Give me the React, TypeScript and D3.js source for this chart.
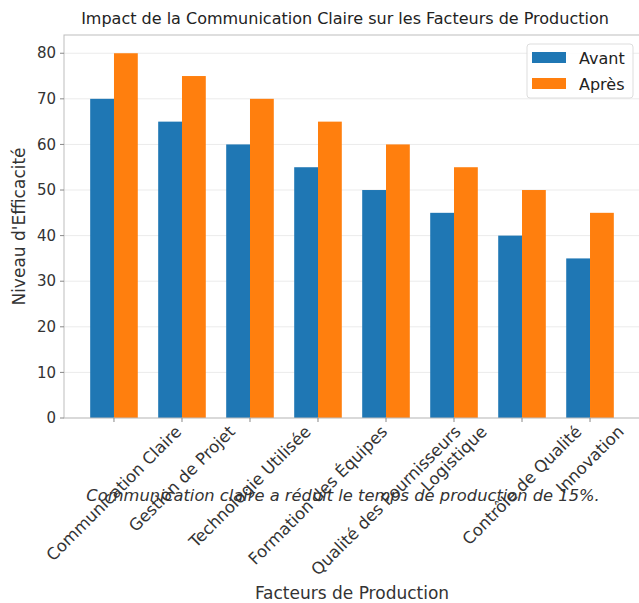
import React, { useEffect, useRef } from 'react';
import * as d3 from 'd3';

const categories = [
  'Communication Claire',
  'Gestion de Projet',
  'Technologie Utilisée',
  'Formation des Équipes',
  'Qualité des Fournisseurs',
  'Logistique',
  'Contrôle de Qualité',
  'Innovation',
];
const avant = [70, 65, 60, 55, 50, 45, 40, 35];
const apres = [80, 75, 70, 65, 60, 55, 50, 45];
const seriesNames = ['Avant', 'Après'];
const seriesColors = ['#1f77b4', '#ff7f0e'];
const yTicks = [0, 10, 20, 30, 40, 50, 60, 70, 80];

const title = 'Impact de la Communication Claire sur les Facteurs de Production';
const xTitle = 'Facteurs de Production';
const yTitle = "Niveau d'Efficacité";
const note = 'Communication claire a réduit le temps de production de 15%.';

const W = 639;
const H = 603;
const FONT = '"DejaVu Sans", sans-serif';

export default function App() {
  const ref = useRef<SVGSVGElement | null>(null);

  useEffect(() => {
    document.body.style.margin = '0';
    document.body.style.overflow = 'hidden';
    const svg = d3.select(ref.current);
    svg.selectAll('*').remove();

    const left = 64, right = 640, top = 35, bottom = 418;
    const barW = 0.35;
    const x = d3.scaleLinear().domain([-0.735, categories.length - 1 + 0.735]).range([left, right]);
    const y = d3.scaleLinear().domain([0, 84]).range([bottom, top]);

    svg.append('rect').attr('width', W).attr('height', H).attr('fill', '#fff');

    // grid
    svg.append('g').selectAll('line').data(yTicks).enter().append('line')
      .attr('x1', left).attr('x2', right)
      .attr('y1', d => y(d)).attr('y2', d => y(d))
      .attr('stroke', '#ebebeb').attr('stroke-width', 1);

    // bars
    const series = [avant, apres];
    series.forEach((vals, s) => {
      svg.append('g').selectAll('rect').data(vals).enter().append('rect')
        .attr('x', (d, i) => x(i + (s === 0 ? -barW : 0)))
        .attr('width', x(barW) - x(0))
        .attr('y', d => y(d))
        .attr('height', d => bottom - y(d))
        .attr('fill', seriesColors[s]);
    });

    // frame
    svg.append('rect')
      .attr('x', left).attr('y', top)
      .attr('width', right - left).attr('height', bottom - top)
      .attr('fill', 'none').attr('stroke', '#bdbdbd').attr('stroke-width', 1);

    // y ticks
    const yg = svg.append('g');
    yTicks.forEach(t => {
      yg.append('line').attr('x1', left - 4).attr('x2', left).attr('y1', y(t)).attr('y2', y(t))
        .attr('stroke', '#888');
      yg.append('text').attr('x', left - 8).attr('y', y(t)).attr('dy', '0.35em')
        .attr('text-anchor', 'end').attr('font-family', FONT).attr('font-size', 15)
        .attr('fill', '#333').text(t);
    });

    // x ticks + rotated labels
    const xg = svg.append('g');
    categories.forEach((c, i) => {
      xg.append('line').attr('x1', x(i)).attr('x2', x(i)).attr('y1', bottom).attr('y2', bottom + 4)
        .attr('stroke', '#888');
      const fs = 16.5;
      const t = xg.append('text')
        .attr('text-anchor', 'middle').attr('dominant-baseline', 'central')
        .attr('font-family', FONT).attr('font-size', fs).attr('fill', '#333').text(c);
      const L = (t.node() as SVGTextElement).getComputedTextLength();
      const half = (L / 2 + fs * 0.5) * Math.SQRT1_2;
      const cy = bottom + 5 + half;
      t.attr('transform', `translate(${x(i)},${cy}) rotate(-45)`);
    });

    // titles
    svg.append('text').attr('x', (left + right) / 2 - 7).attr('y', 24).attr('text-anchor', 'middle')
      .attr('font-family', FONT).attr('font-size', 16).attr('font-weight', 500)
      .attr('fill', '#222').text(title);
    svg.append('text').attr('x', (left + right) / 2).attr('y', 599).attr('text-anchor', 'middle')
      .attr('font-family', FONT).attr('font-size', 17).attr('fill', '#333').text(xTitle);
    svg.append('text').attr('transform', `translate(25,${(top + bottom) / 2}) rotate(-90)`)
      .attr('text-anchor', 'middle').attr('font-family', FONT).attr('font-size', 17)
      .attr('fill', '#333').text(yTitle);

    // note
    svg.append('text').attr('x', 343).attr('y', 501).attr('text-anchor', 'middle')
      .attr('font-family', FONT).attr('font-size', 16.3).attr('font-style', 'italic')
      .attr('fill', '#333').text(note);

    // legend
    const lg = svg.append('g');
    lg.append('rect').attr('x', 527).attr('y', 44).attr('width', 106).attr('height', 54).attr('rx', 3)
      .attr('fill', '#fff').attr('fill-opacity', 0.85).attr('stroke', '#dddddd');
    seriesNames.forEach((n, s) => {
      const yy = 52 + s * 26;
      lg.append('rect').attr('x', 532).attr('y', yy).attr('width', 34).attr('height', 11)
        .attr('fill', seriesColors[s]);
      lg.append('text').attr('x', 579).attr('y', yy + 6).attr('dy', '0.35em')
        .attr('font-family', FONT).attr('font-size', 16).attr('fill', '#222').text(n);
    });
  }, []);

  return <svg ref={ref} width={W} height={H} style={{ display: 'block', position: 'absolute', left: 0, top: 0 }} />;
}
